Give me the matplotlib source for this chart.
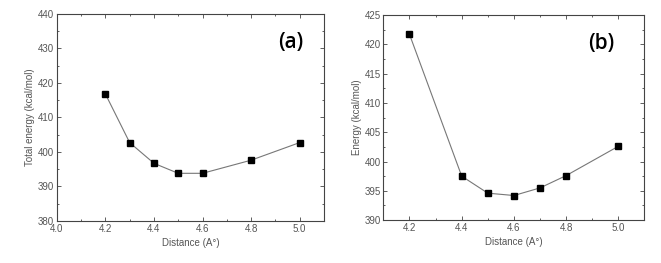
import matplotlib
matplotlib.use("agg")

import matplotlib.pyplot as plt
from matplotlib.ticker import MultipleLocator

# Panel (a) data
dist_a = [4.2, 4.3, 4.4, 4.5, 4.6, 4.8, 5.0]
energy_a = [416.8, 402.7, 396.7, 393.8, 393.8, 397.6, 402.7]

# Panel (b) data
dist_b = [4.2, 4.4, 4.5, 4.6, 4.7, 4.8, 5.0]
energy_b = [421.7, 397.5, 394.6, 394.2, 395.5, 397.6, 402.6]

plt.rcParams["font.family"] = ["Liberation Sans", "DejaVu Sans"]

fig = plt.figure(figsize=(6.61, 2.63), dpi=100)

ax1 = fig.add_axes([0.086, 0.160, 0.404, 0.787])
ax2 = fig.add_axes([0.580, 0.163, 0.395, 0.780])

text_col = "#555555"


def style(ax, xlim, ylim, ymaj, ymin, xticks):
    ax.set_xlim(*xlim)
    ax.set_ylim(*ylim)
    ax.set_xticks(xticks)
    ax.xaxis.set_minor_locator(MultipleLocator(0.1))
    ax.yaxis.set_major_locator(MultipleLocator(ymaj))
    ax.yaxis.set_minor_locator(MultipleLocator(ymin))
    ax.tick_params(which="both", direction="in", top=True, right=True,
                   labelsize=7, labelcolor=text_col, color="#444444",
                   width=0.6)
    ax.tick_params(which="major", length=3)
    ax.tick_params(which="minor", length=1.5)
    ax.tick_params(axis="both", which="major", pad=2)
    for s in ax.spines.values():
        s.set_color("#444444")
        s.set_linewidth(0.8)
    ax.set_xlabel("Distance (A°)", fontsize=7, color=text_col, labelpad=3)


ax1.plot(dist_a, energy_a, color="#777777", lw=0.8, marker="s", ms=3.8,
         mfc="black", mec="black")
style(ax1, (4.0, 5.1), (380, 440), 10, 5, [4.0, 4.2, 4.4, 4.6, 4.8, 5.0])
ax1.set_ylabel("Total energy (kcal/mol)", fontsize=7, color=text_col, labelpad=2)
ax1.text(0.925, 0.86, "(a)", transform=ax1.transAxes, fontsize=15,
         fontweight="semibold", ha="right", va="center",
         family=["Open Sans", "DejaVu Sans"])

ax2.plot(dist_b, energy_b, color="#777777", lw=0.8, marker="s", ms=3.8,
         mfc="black", mec="black")
style(ax2, (4.1, 5.1), (390, 425), 5, 2.5, [4.2, 4.4, 4.6, 4.8, 5.0])
ax2.set_ylabel("Energy (kcal/mol)", fontsize=7, color=text_col, labelpad=2)
ax2.text(0.885, 0.86, "(b)", transform=ax2.transAxes, fontsize=15,
         fontweight="semibold", ha="right", va="center",
         family=["Open Sans", "DejaVu Sans"])

fig.savefig("out.png", dpi=100)
